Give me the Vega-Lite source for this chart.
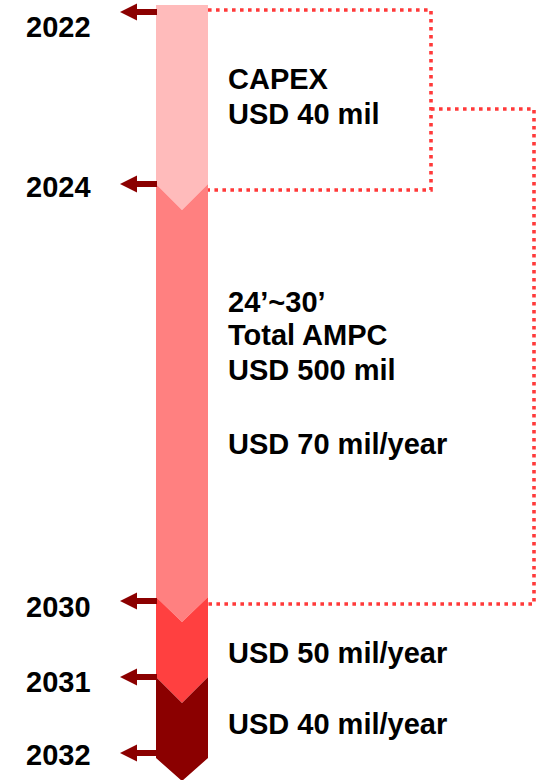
{
  "$schema": "https://vega.github.io/schema/vega-lite/v6.json",
  "width": 536,
  "height": 780,
  "autosize": "none",
  "padding": 0,
  "background": "white",
  "config": {"view": {"stroke": null}},
  "datasets": {
    "segments": [
      {"seg": "2022-2024", "x": 156, "top": 5, "bottom": 184},
      {"seg": "2022-2024", "x": 182, "top": 5, "bottom": 210},
      {"seg": "2022-2024", "x": 208, "top": 5, "bottom": 184},
      {"seg": "2024-2030", "x": 156, "top": 184, "bottom": 597},
      {"seg": "2024-2030", "x": 182, "top": 210, "bottom": 622},
      {"seg": "2024-2030", "x": 208, "top": 184, "bottom": 597},
      {"seg": "2030-2031", "x": 156, "top": 597, "bottom": 677},
      {"seg": "2030-2031", "x": 182, "top": 622, "bottom": 703},
      {"seg": "2030-2031", "x": 208, "top": 597, "bottom": 677},
      {"seg": "2031-2032", "x": 156, "top": 677, "bottom": 758},
      {"seg": "2031-2032", "x": 182, "top": 703, "bottom": 781},
      {"seg": "2031-2032", "x": 208, "top": 677, "bottom": 758}
    ],
    "years": [
      {"year": "2022", "arrow_y": 12, "label_y": 26},
      {"year": "2024", "arrow_y": 184, "label_y": 186},
      {"year": "2030", "arrow_y": 601, "label_y": 606},
      {"year": "2031", "arrow_y": 677, "label_y": 681},
      {"year": "2032", "arrow_y": 753, "label_y": 754}
    ],
    "notes": [
      {"text": "CAPEX", "ty": 78},
      {"text": "USD 40 mil", "ty": 113},
      {"text": "24’~30’", "ty": 301},
      {"text": "Total AMPC", "ty": 334},
      {"text": "USD 500 mil", "ty": 369},
      {"text": "USD 70 mil/year", "ty": 443},
      {"text": "USD 50 mil/year", "ty": 652},
      {"text": "USD 40 mil/year", "ty": 723}
    ],
    "brackets": [
      {"path": "capex", "ord": 1, "px": 208, "py": 10},
      {"path": "capex", "ord": 2, "px": 431, "py": 10},
      {"path": "capex", "ord": 3, "px": 431, "py": 190},
      {"path": "capex", "ord": 4, "px": 208, "py": 190},
      {"path": "ampc", "ord": 1, "px": 431, "py": 109},
      {"path": "ampc", "ord": 2, "px": 534, "py": 109},
      {"path": "ampc", "ord": 3, "px": 534, "py": 604},
      {"path": "ampc", "ord": 4, "px": 208, "py": 604}
    ]
  },
  "layer": [
    {
      "data": {"name": "segments"},
      "mark": {"type": "area", "interpolate": "linear", "opacity": 1},
      "encoding": {
        "x": {"field": "x", "type": "quantitative", "scale": {"domain": [0, 536], "nice": false, "zero": false}, "axis": null},
        "y": {"field": "top", "type": "quantitative", "stack": null, "scale": {"domain": [0, 780], "nice": false, "zero": false, "reverse": true}, "axis": null},
        "y2": {"field": "bottom"},
        "color": {
          "field": "seg", "type": "nominal", "legend": null,
          "scale": {"domain": ["2022-2024", "2024-2030", "2030-2031", "2031-2032"], "range": ["#FFBBBB", "#FF8080", "#FF4040", "#8B0000"]}
        }
      }
    },
    {
      "data": {"name": "years"},
      "mark": {"type": "rule", "color": "#8B0000", "strokeWidth": 6},
      "encoding": {
        "x": {"datum": 135, "type": "quantitative"},
        "x2": {"datum": 157},
        "y": {"field": "arrow_y", "type": "quantitative"}
      }
    },
    {
      "data": {"name": "years"},
      "mark": {"type": "point", "shape": "M -1 0 L 1 -1 L 1 1 Z", "filled": true, "fill": "#8B0000", "stroke": null, "size": 289, "opacity": 1},
      "encoding": {
        "x": {"datum": 128.5, "type": "quantitative"},
        "y": {"field": "arrow_y", "type": "quantitative"}
      }
    },
    {
      "data": {"name": "years"},
      "mark": {"type": "text", "align": "left", "baseline": "middle", "font": "Liberation Sans", "fontWeight": "bold", "fontSize": 29, "color": "#000000", "dy": 1.5},
      "encoding": {
        "x": {"datum": 26, "type": "quantitative"},
        "y": {"field": "label_y", "type": "quantitative"},
        "text": {"field": "year"}
      }
    },
    {
      "data": {"name": "brackets"},
      "mark": {"type": "line", "color": "#FF3A3A", "strokeWidth": 3.6, "strokeDash": [3.6, 4.4], "strokeCap": "butt", "interpolate": "linear"},
      "encoding": {
        "x": {"field": "px", "type": "quantitative"},
        "y": {"field": "py", "type": "quantitative"},
        "detail": {"field": "path"},
        "order": {"field": "ord"}
      }
    },
    {
      "data": {"name": "notes"},
      "mark": {"type": "text", "align": "left", "baseline": "middle", "font": "Liberation Sans", "fontWeight": "bold", "fontSize": 29, "color": "#000000", "dy": 1.5},
      "encoding": {
        "x": {"datum": 228, "type": "quantitative"},
        "y": {"field": "ty", "type": "quantitative"},
        "text": {"field": "text"}
      }
    }
  ]
}
